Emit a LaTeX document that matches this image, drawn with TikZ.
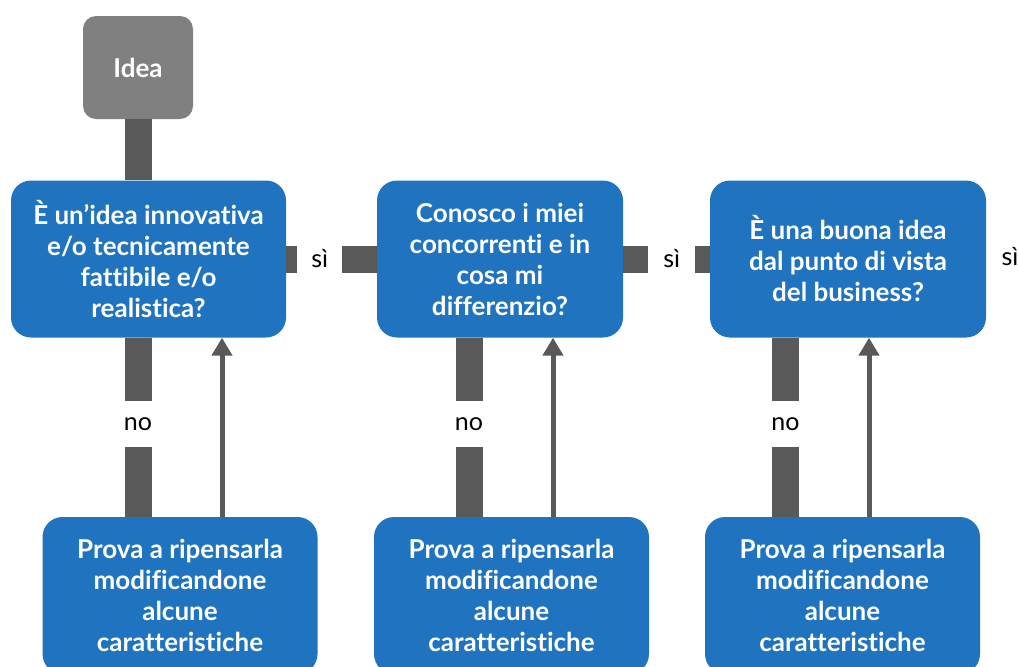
\documentclass[tikz,border=0pt]{standalone}
\usepackage{fontspec}
\setmainfont{Lato}[Ligatures={NoCommon}]
\usetikzlibrary{arrows.meta}
\definecolor{boxblue}{HTML}{1F73BF}
\definecolor{ideagray}{HTML}{808080}
\definecolor{bargray}{HTML}{595959}
\tikzset{
  qbox/.style={rectangle, rounded corners=20pt, fill=boxblue, text=white, align=center,
    font=\fontsize{26}{31}\selectfont\bfseries, inner sep=0pt},
  ideabox/.style={rectangle, rounded corners=13pt, fill=ideagray, text=white,
    font=\fontsize{26}{31}\selectfont\bfseries, minimum width=110pt, minimum height=103pt},
  bar/.style={line width=27pt, draw=bargray},
  lbl/.style={fill=white, text=black, font=\fontsize{25}{31}\selectfont, inner sep=0pt},
  arr/.style={line width=5pt, draw=bargray, -{Triangle[width=20pt,length=18pt]}},
}
\begin{document}
\begin{tikzpicture}[x=1pt,y=-1pt]
\useasboundingbox (0,0) rectangle (1018,667);
\clip (0,0) rectangle (1018,667);
\node[ideabox] (idea) at (138,67.5) {Idea};
\node[qbox, minimum width=275pt, minimum height=157pt] (q1) at (148.5,259) {È un’idea innovativa\\e/o tecnicamente\\fattibile e/o\\realistica?};
\node[qbox, minimum width=246pt, minimum height=157pt] (q2) at (500,259) {Conosco i miei\\concorrenti e in\\cosa mi\\differenzio?};
\node[qbox, minimum width=276pt, minimum height=157pt] (q3) at (848,259) {È una buona idea\\dal punto di vista\\del business?};
\node[qbox, minimum width=275pt, minimum height=157pt] (p1) at (180,595.5) {Prova a ripensarla\\modificandone\\alcune\\caratteristiche};
\node[qbox, minimum width=275pt, minimum height=157pt] (p2) at (511.5,595.5) {Prova a ripensarla\\modificandone\\alcune\\caratteristiche};
\node[qbox, minimum width=275pt, minimum height=157pt] (p3) at (842.5,595.5) {Prova a ripensarla\\modificandone\\alcune\\caratteristiche};
% idea to q1
\draw[bar] (idea.south) -- (idea.south |- q1.north);
% yes connectors
\draw[bar] (q1.east) -- (q2.west) node[lbl, pos=0.37, minimum width=45pt, minimum height=30pt] (s1) {sì};
\draw[bar] (q2.east) -- (q3.west) node[lbl, pos=0.56, minimum width=47pt, minimum height=30pt] (s2) {sì};
\node[lbl] (s3) at (1010,257) {sì};
% no connectors
\draw[bar] (idea.south |- q1.south) -- (idea.south |- p1.north) node[lbl, pos=0.48, minimum width=30pt, minimum height=46pt] (n1) {no};
\draw[bar] ([xshift=-31pt]q2.south) -- ([xshift=-31pt]q2.south |- p2.north) node[lbl, pos=0.48, minimum width=30pt, minimum height=46pt] (n2) {no};
\draw[bar] ([xshift=-62.5pt]q3.south) -- ([xshift=-62.5pt]q3.south |- p3.north) node[lbl, pos=0.48, minimum width=30pt, minimum height=46pt] (n3) {no};
% return arrows
\draw[arr] ([xshift=42pt]p1.north) -- ([xshift=42pt]p1.north |- q1.south);
\draw[arr] ([xshift=41.5pt]p2.north) -- ([xshift=41.5pt]p2.north |- q2.south);
\draw[arr] ([xshift=26.5pt]p3.north) -- ([xshift=26.5pt]p3.north |- q3.south);
\end{tikzpicture}
\end{document}
